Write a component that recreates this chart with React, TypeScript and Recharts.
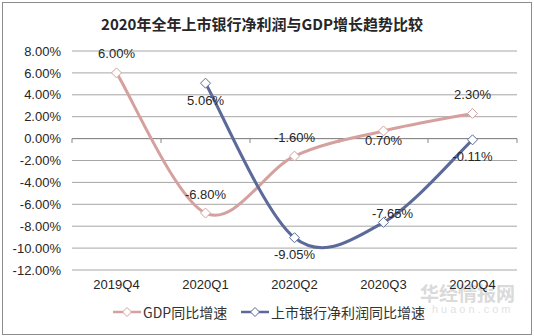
import React from 'react';
import { LineChart, Line, XAxis, YAxis, CartesianGrid, ReferenceLine, LabelList, Legend } from 'recharts';

const categories = ['2019Q4', '2020Q1', '2020Q2', '2020Q3', '2020Q4'];
const gdpGrowth = [6.0, -6.8, -1.6, 0.7, 2.3];
const bankProfitGrowth: (number | null)[] = [null, 5.06, -9.05, -7.65, -0.11];
const yTicks = [-12, -10, -8, -6, -4, -2, 0, 2, 4, 6, 8];
const gdpName = 'GDP同比增速';
const bankName = '上市银行净利润同比增速';
const title = '2020年全年上市银行净利润与GDP增长趋势比较';

const gdpLabelPlacement = ['top', 'top', 'top', 'below', 'top'];
const bankLabelPlacement = ['bottom', 'bottom', 'bottom', 'topright', 'bottom'];

const PINK = '#D5A19F';
const BLUE = '#5B6A98';
const NUM_FONT = '"Liberation Sans", Arial, sans-serif';
const CJK_FONT = '"Noto Sans CJK SC", "Noto Sans", sans-serif';

const data = categories.map((c, i) => ({ cat: c, idx: i, gdp: gdpGrowth[i], bank: bankProfitGrowth[i] }));

const excelCurve: any = (context: any) => {
  let pts: [number, number][] = [];
  return {
    areaStart() {},
    areaEnd() {},
    lineStart() { pts = []; },
    point(x: number, y: number) { pts.push([+x, +y]); },
    lineEnd() {
      const n = pts.length;
      if (!n) return;
      context.moveTo(pts[0][0], pts[0][1]);
      const t = 1 / 6;
      for (let i = 0; i < n - 1; i++) {
        const p0 = pts[i - 1] || pts[i];
        const p1 = pts[i];
        const p2 = pts[i + 1];
        const p3 = pts[i + 2] || p2;
        context.bezierCurveTo(
          p1[0] + (p2[0] - p0[0]) * t,
          p1[1] + (p2[1] - p0[1]) * t,
          p2[0] - (p3[0] - p1[0]) * t,
          p2[1] - (p3[1] - p1[1]) * t,
          p2[0],
          p2[1]
        );
      }
    },
  };
};

const makeDot = (color: string) => (props: any) => {
  const { cx, cy, index, value } = props;
  if (value == null || cx == null || cy == null || isNaN(cy)) return <g key={`d${index}`} />;
  const r = 5;
  return (
    <polygon
      key={`d${index}`}
      points={`${cx},${cy - r} ${cx + r},${cy} ${cx},${cy + r} ${cx - r},${cy}`}
      fill="#fff"
      stroke={color}
      strokeWidth={1}
    />
  );
};

const makeLabel = (placements: string[]) => (props: any) => {
  const { x, y, value, index } = props;
  if (value == null) return null;
  const p = placements[index];
  let dx = 0;
  let dy = 0;
  if (p === 'top') dy = -19;
  else if (p === 'bottom') dy = 17;
  else if (p === 'below') dy = 9.5;
  else if (p === 'topright') { dx = 9; dy = -9; }
  return (
    <text
      x={x + dx}
      y={y + dy}
      textAnchor="middle"
      dominantBaseline="central"
      fontSize={13}
      fontFamily={NUM_FONT}
      fill="#262626"
    >
      {Number(value).toFixed(2)}%
    </text>
  );
};

const LegendMark = ({ color }: { color: string }) => (
  <svg width={28} height={12} style={{ display: 'block' }}>
    <line x1={0} y1={6} x2={28} y2={6} stroke={color} strokeWidth={2.5} />
    <polygon points="14,1.5 18.5,6 14,10.5 9.5,6" fill="#fff" stroke={color} strokeWidth={1} />
  </svg>
);

const renderLegend = () => (
  <div style={{ position: 'relative', width: 534, height: 20, fontFamily: CJK_FONT, fontSize: 14, color: '#333', lineHeight: '20px' }}>
    <div style={{ position: 'absolute', left: 113, top: 0, display: 'flex', alignItems: 'center', height: 20 }}>
      <LegendMark color={PINK} />
      <span style={{ marginLeft: 2 }}>{gdpName}</span>
    </div>
    <div style={{ position: 'absolute', left: 241, top: 0, display: 'flex', alignItems: 'center', height: 20 }}>
      <LegendMark color={BLUE} />
      <span style={{ marginLeft: 2 }}>{bankName}</span>
    </div>
  </div>
);

export default function App() {
  return (
    <div style={{ position: 'absolute', left: 0, top: 0, width: 534, height: 336, background: '#fff', overflow: 'hidden' }}>
      <div style={{ position: 'absolute', left: 2, top: 2, width: 528, height: 331, border: '1px solid #8c8c8c' }} />
      <div
        style={{
          position: 'absolute', left: 0, top: 13, width: 524, textAlign: 'center',
          fontFamily: CJK_FONT, fontWeight: 700, fontSize: 15, color: '#262626', lineHeight: '22px',
        }}
      >
        {title}
      </div>
      <div style={{ position: 'absolute', left: 420, top: 279, fontFamily: CJK_FONT, fontWeight: 700, fontSize: 19, color: '#dadada' }}>华经情报网</div>
      <div style={{ position: 'absolute', left: 432, top: 303, fontFamily: NUM_FONT, fontSize: 11, color: '#e2e2e2', letterSpacing: 3 }}>huaon.com</div>
      <LineChart width={534} height={336} data={data} margin={{ top: 51, right: 17, left: 10, bottom: 36 }} style={{ position: 'absolute', left: 0, top: 0 }}>
        <CartesianGrid vertical={false} stroke="#a6a6a6" strokeWidth={1} />
        <XAxis
          dataKey="cat"
          axisLine={false}
          tickLine={false}
          tickSize={0}
          tickMargin={10}
          interval={0}
          padding={{ left: 44.5, right: 44.5 }}
          tick={{ fontSize: 13, fill: '#262626', fontFamily: NUM_FONT }}
        />
        <XAxis xAxisId="n" type="number" dataKey="idx" domain={[0, 5]} allowDataOverflow hide />
        <YAxis
          domain={[-12, 8]}
          ticks={yTicks}
          axisLine={false}
          tickLine={false}
          tickSize={0}
          tickMargin={11}
          width={62}
          interval={0}
          tickFormatter={(v: number) => `${v.toFixed(2)}%`}
          tick={{ fontSize: 13, fill: '#262626', fontFamily: NUM_FONT }}
        />
        <ReferenceLine y={0} stroke="#868686" strokeWidth={1} />
        {categories.concat(['']).map((_, i) => (
          <ReferenceLine
            key={`t${i}`}
            xAxisId="n"
            segment={[{ x: i, y: 0 }, { x: i, y: -0.4 }]}
            stroke="#868686"
            strokeWidth={1}
          />
        ))}
        <Legend layout="horizontal" verticalAlign="middle" content={renderLegend} wrapperStyle={{ position: 'absolute', left: 0, top: 302, width: 534 }} />
        <Line
          name={gdpName}
          dataKey="gdp"
          type={excelCurve}
          stroke={PINK}
          strokeWidth={3}
          dot={makeDot(PINK)}
          activeDot={false}
          isAnimationActive={false}
        >
          <LabelList dataKey="gdp" content={makeLabel(gdpLabelPlacement)} />
        </Line>
        <Line
          name={bankName}
          dataKey="bank"
          type={excelCurve}
          stroke={BLUE}
          strokeWidth={3}
          dot={makeDot(BLUE)}
          activeDot={false}
          isAnimationActive={false}
        >
          <LabelList dataKey="bank" content={makeLabel(bankLabelPlacement)} />
        </Line>
      </LineChart>
    </div>
  );
}
